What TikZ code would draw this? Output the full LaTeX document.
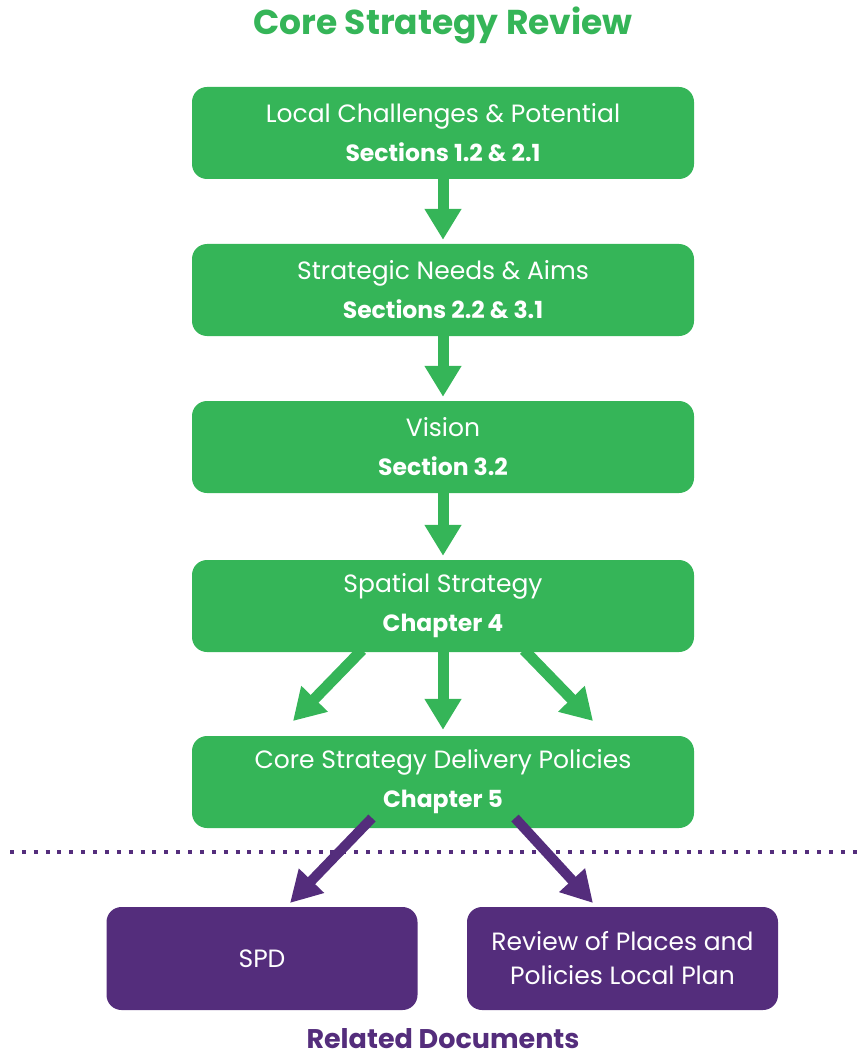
\documentclass[tikz,border=0pt]{standalone}
\usepackage{fontspec}
\setmainfont{Poppins}
\usetikzlibrary{arrows.meta,calc}
\definecolor{pgreen}{HTML}{35B558}
\definecolor{ppurple}{HTML}{542D7C}
\tikzset{
  gbox/.style={fill=pgreen, rounded corners=15pt, minimum width=502pt, minimum height=92pt,
    text=white, align=center, inner sep=0pt, font=\fontsize{25}{39}\selectfont},
  pbox/.style={fill=ppurple, rounded corners=15pt, minimum width=311pt, minimum height=103pt,
    text=white, align=center, inner sep=0pt, font=\fontsize{25}{34}\selectfont},
  garrow/.style={draw=pgreen, line width=11pt, -{Triangle[width=35pt,length=31pt]}, fill=pgreen},
  parrow/.style={draw=ppurple, line width=10pt, -{Triangle[width=33pt,length=31pt]}, fill=ppurple},
}
\newcommand{\bsub}[1]{{\bfseries\fontsize{23.5}{39}\selectfont #1}}
\begin{document}
\begin{tikzpicture}[x=1pt,y=-1pt]
\useasboundingbox (0,0) rectangle (862,1059);
\node[text=pgreen, font=\bfseries\fontsize{34.5}{36}\selectfont] (title) at (443,25) {Core Strategy Review};
\node[gbox] (b1) at (443,133) {Local Challenges \& Potential\\\bsub{Sections 1.2 \& 2.1}};
\node[gbox] (b2) at (443,290) {Strategic Needs \& Aims\\\bsub{Sections 2.2 \& 3.1}};
\node[gbox] (b3) at (443,447) {Vision\\\bsub{Section 3.2}};
\node[gbox] (b4) at (443,606) {Spatial Strategy\\\bsub{Chapter 4}};
\node[gbox] (b5) at (443,782) {Core Strategy Delivery Policies\\\bsub{Chapter 5}};
\node[pbox] (p1) at (262,958.5) {SPD};
\node[pbox] (p2) at (622.5,958.5) {Review of Places and\\Policies Local Plan};
\node[text=ppurple, inner sep=0pt, font=\bfseries\fontsize{27}{28}\selectfont] (rel) at (443,1039) {Related Documents};
% dotted separator
\coordinate (dl) at (10,852);
\coordinate (dr) at (858,852);
\draw[ppurple, line width=4pt, dash pattern=on 4pt off 7.87pt] (dl) -- (dr);
% green arrows
\draw[garrow, shorten >=4pt] (b1.south) -- (b2.north);
\draw[garrow, shorten >=4pt] (b2.south) -- (b3.north);
\draw[garrow, shorten >=4pt] (b3.south) -- (b4.north);
\draw[garrow, shorten >=6pt] (b4.south) -- (b5.north);
\coordinate (l4) at (362,650);
\coordinate (r4) at (524,650);
\coordinate (lt) at (293,721);
\coordinate (rt) at (593,721);
\draw[garrow] (l4) -- (lt);
\draw[garrow] (r4) -- (rt);
% purple arrows
\coordinate (l5) at (372,818);
\coordinate (r5) at (515,818);
\coordinate (lp) at (290,903);
\coordinate (rp) at (593,903);
\draw[parrow] (l5) -- (lp);
\draw[parrow] (r5) -- (rp);
\end{tikzpicture}
\end{document}
